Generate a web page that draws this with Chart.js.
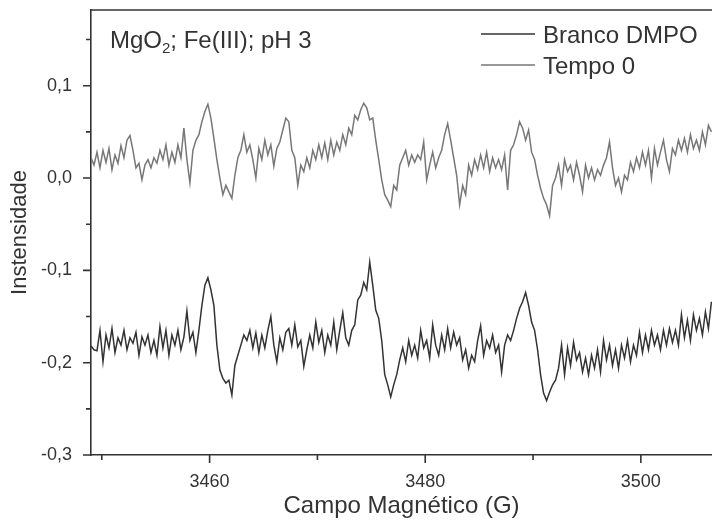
<!DOCTYPE html>
<html>
<head>
<meta charset="utf-8">
<script src="https://cdn.jsdelivr.net/npm/chart.js@4"></script>
<style>
  body { margin: 0; background: #fff; }
  #caixa { width: 712px; height: 526px; }
</style>
</head>
<body>
<div id="caixa"><canvas id="grafico"></canvas></div>
<script>
const campoInicial = 3449.0;
const passo = 0.278;

const tempo0 = [
  0.022, 0.014, 0.028, 0.011, 0.030, 0.017, 0.032, 0.009, 0.025, 0.016,
  0.035, 0.022, 0.041, 0.046, 0.030, 0.011, 0.016, -0.002, 0.014, 0.020,
  0.011, 0.022, 0.016, 0.030, 0.020, 0.036, 0.014, 0.028, 0.017, 0.036,
  0.022, 0.054, 0.020, -0.005, 0.030, 0.041, 0.047, 0.061, 0.072, 0.080,
  0.065, 0.043, 0.020, 0.000, -0.018, -0.008, -0.015, -0.022, 0.003, 0.022,
  0.030, 0.047, 0.028, 0.036, 0.020, 0.000, 0.032, 0.020, 0.041, 0.025,
  0.036, 0.013, 0.032, 0.039, 0.052, 0.065, 0.061, 0.030, 0.022, -0.008,
  0.014, 0.007, 0.022, 0.011, 0.030, 0.020, 0.036, 0.022, 0.038, 0.020,
  0.041, 0.025, 0.039, 0.030, 0.047, 0.036, 0.054, 0.047, 0.068, 0.063,
  0.074, 0.081, 0.076, 0.063, 0.065, 0.041, 0.020, -0.002, -0.018, -0.024,
  -0.031, -0.008, -0.013, 0.014, 0.022, 0.030, 0.014, 0.025, 0.017, 0.025,
  0.020, 0.039, -0.002, 0.014, 0.028, 0.011, 0.022, 0.030, 0.047, 0.059,
  0.041, 0.022, 0.003, -0.029, -0.008, -0.018, 0.014, 0.003, 0.020, 0.009,
  0.025, 0.011, 0.028, 0.007, 0.022, 0.011, 0.020, 0.009, 0.025, -0.013,
  0.030, 0.036, 0.047, 0.061, 0.054, 0.041, 0.052, 0.028, 0.020, 0.003,
  -0.011, -0.022, -0.029, -0.041, -0.008, 0.000, 0.014, -0.008, 0.020, 0.007,
  0.014, -0.002, 0.017, 0.003, -0.015, 0.014, 0.000, 0.011, -0.002, 0.009,
  0.003, 0.014, 0.022, 0.039, 0.011, -0.008, 0.000, -0.015, 0.003, -0.002,
  0.017, 0.007, 0.022, 0.011, 0.028, 0.014, 0.030, 0.000, 0.032, 0.014,
  0.028, 0.041, 0.020, 0.007, 0.032, 0.025, 0.041, 0.030, 0.043, 0.028,
  0.047, 0.032, 0.041, 0.030, 0.050, 0.036, 0.057, 0.050
];

const brancoDMPO = [
  -0.182, -0.186, -0.187, -0.165, -0.199, -0.170, -0.184, -0.163, -0.189, -0.173,
  -0.181, -0.165, -0.186, -0.173, -0.179, -0.167, -0.192, -0.172, -0.181, -0.170,
  -0.189, -0.176, -0.192, -0.161, -0.184, -0.165, -0.192, -0.170, -0.181, -0.165,
  -0.186, -0.172, -0.144, -0.176, -0.167, -0.189, -0.165, -0.138, -0.116, -0.108,
  -0.121, -0.138, -0.181, -0.208, -0.217, -0.222, -0.219, -0.235, -0.203, -0.192,
  -0.181, -0.170, -0.176, -0.165, -0.184, -0.168, -0.189, -0.170, -0.184, -0.165,
  -0.150, -0.181, -0.199, -0.173, -0.186, -0.167, -0.163, -0.181, -0.159, -0.183,
  -0.176, -0.204, -0.186, -0.170, -0.184, -0.156, -0.178, -0.165, -0.189, -0.170,
  -0.181, -0.156, -0.186, -0.165, -0.146, -0.173, -0.181, -0.165, -0.159, -0.132,
  -0.127, -0.113, -0.121, -0.091, -0.116, -0.143, -0.152, -0.176, -0.213, -0.224,
  -0.237, -0.224, -0.213, -0.197, -0.184, -0.199, -0.176, -0.192, -0.181, -0.195,
  -0.165, -0.184, -0.176, -0.195, -0.159, -0.181, -0.192, -0.170, -0.186, -0.163,
  -0.184, -0.167, -0.181, -0.173, -0.197, -0.186, -0.206, -0.192, -0.199, -0.176,
  -0.160, -0.192, -0.176, -0.184, -0.170, -0.189, -0.181, -0.210, -0.181, -0.170,
  -0.176, -0.165, -0.152, -0.141, -0.134, -0.124, -0.138, -0.156, -0.165, -0.186,
  -0.213, -0.233, -0.241, -0.232, -0.224, -0.219, -0.206, -0.181, -0.213, -0.184,
  -0.203, -0.178, -0.197, -0.189, -0.210, -0.195, -0.213, -0.192, -0.206, -0.186,
  -0.210, -0.176, -0.197, -0.181, -0.203, -0.186, -0.206, -0.181, -0.195, -0.176,
  -0.199, -0.181, -0.192, -0.167, -0.189, -0.170, -0.186, -0.165, -0.181, -0.170,
  -0.186, -0.165, -0.181, -0.163, -0.178, -0.165, -0.181, -0.148, -0.173, -0.154,
  -0.176, -0.148, -0.165, -0.152, -0.170, -0.145, -0.163, -0.134
];

const ticksYMaior = [-0.3, -0.2, -0.1, 0.0, 0.1];
const ticksYMenor = [-0.25, -0.15, -0.05, 0.05, 0.15];
const ticksXMaior = [3460, 3480, 3500];
const ticksXMenor = [3450, 3470, 3490];

const fonte = "'Liberation Sans', Arial, sans-serif";
const corEixo = '#333333';

const pontos = arr => arr.map((v, i) => ({ x: campoInicial + i * passo, y: v }));

const extras = {
  id: 'extras',
  afterDraw(chart) {
    const c = chart.ctx;
    const a = chart.chartArea;
    const sx = chart.scales.x, sy = chart.scales.y;
    c.save();
    c.strokeStyle = corEixo;
    c.lineWidth = 1.6;
    // linha superior da moldura
    c.beginPath();
    c.moveTo(a.left, a.top);
    c.lineTo(a.right, a.top);
    c.stroke();
    // marcas dos eixos (para fora)
    c.beginPath();
    ticksYMaior.forEach(v => { const y = sy.getPixelForValue(v); c.moveTo(a.left, y); c.lineTo(a.left - 8, y); });
    ticksYMenor.forEach(v => { const y = sy.getPixelForValue(v); c.moveTo(a.left, y); c.lineTo(a.left - 5, y); });
    ticksXMaior.forEach(v => { const x = sx.getPixelForValue(v); c.moveTo(x, a.bottom); c.lineTo(x, a.bottom + 8); });
    ticksXMenor.forEach(v => { const x = sx.getPixelForValue(v); c.moveTo(x, a.bottom); c.lineTo(x, a.bottom + 5); });
    c.stroke();

    // anotação
    c.fillStyle = corEixo;
    c.textBaseline = 'alphabetic';
    c.textAlign = 'left';
    c.font = '24px ' + fonte;
    let x = a.left + 19;
    const yb = a.top + 38;
    c.fillText('MgO', x, yb);
    x += c.measureText('MgO').width;
    c.font = '15px ' + fonte;
    c.fillText('2', x, yb + 5);
    x += c.measureText('2').width;
    c.font = '24px ' + fonte;
    c.fillText('; Fe(III); pH 3', x, yb);

    // legenda
    c.font = '24px ' + fonte;
    chart.data.datasets.forEach((ds, i) => {
      const ly = 34 + i * 31;
      c.strokeStyle = ds.borderColor;
      c.lineWidth = 1.3;
      c.beginPath();
      c.moveTo(481, ly);
      c.lineTo(535, ly);
      c.stroke();
      c.fillStyle = corEixo;
      c.textBaseline = 'middle';
      c.fillText(ds.label, 543, ly + 2);
    });
    c.restore();
  }
};

new Chart(document.getElementById('grafico'), {
  type: 'line',
  data: {
    datasets: [
      { label: 'Branco DMPO', data: pontos(brancoDMPO), borderColor: '#333333', borderWidth: 1.5, pointRadius: 0, tension: 0 },
      { label: 'Tempo 0', data: pontos(tempo0), borderColor: '#777777', borderWidth: 1.5, pointRadius: 0, tension: 0 }
    ]
  },
  plugins: [extras],
  options: {
    responsive: true,
    maintainAspectRatio: false,
    animation: false,
    layout: { padding: { top: 10, right: 0, left: 0, bottom: 0 } },
    plugins: { legend: { display: false }, tooltip: { enabled: false } },
    scales: {
      x: {
        type: 'linear',
        min: 3449,
        max: 3506.6,
        afterBuildTicks: s => { s.ticks = ticksXMaior.map(v => ({ value: v })); },
        afterFit: s => { s.height = 71; s.paddingLeft = 0; s.paddingRight = 0; },
        grid: { display: false, drawTicks: false },
        border: { display: true, color: corEixo, width: 1.6 },
        ticks: {
          autoSkip: false,
          maxRotation: 0,
          padding: 16,
          color: corEixo,
          font: { family: fonte, size: 18 },
          callback: v => String(v)
        },
        title: {
          display: true,
          text: 'Campo Magnético (G)',
          color: corEixo,
          font: { family: fonte, size: 24 },
          padding: { top: 0, bottom: 5 }
        }
      },
      y: {
        min: -0.3,
        max: 0.182,
        afterBuildTicks: s => { s.ticks = ticksYMaior.map(v => ({ value: v })); },
        afterFit: s => { s.width = 91; s.paddingTop = 0; s.paddingBottom = 0; },
        grid: { display: false, drawTicks: false },
        border: { display: true, color: corEixo, width: 1.6 },
        ticks: {
          autoSkip: false,
          padding: 19,
          color: corEixo,
          font: { family: fonte, size: 18 },
          callback: v => (Math.abs(v) < 1e-9 ? 0 : v).toFixed(1).replace('.', ',')
        },
        title: {
          display: true,
          text: 'Instensidade',
          color: corEixo,
          font: { family: fonte, size: 22 },
          padding: { top: 7, bottom: 0 }
        }
      }
    }
  }
});
</script>
</body>
</html>
